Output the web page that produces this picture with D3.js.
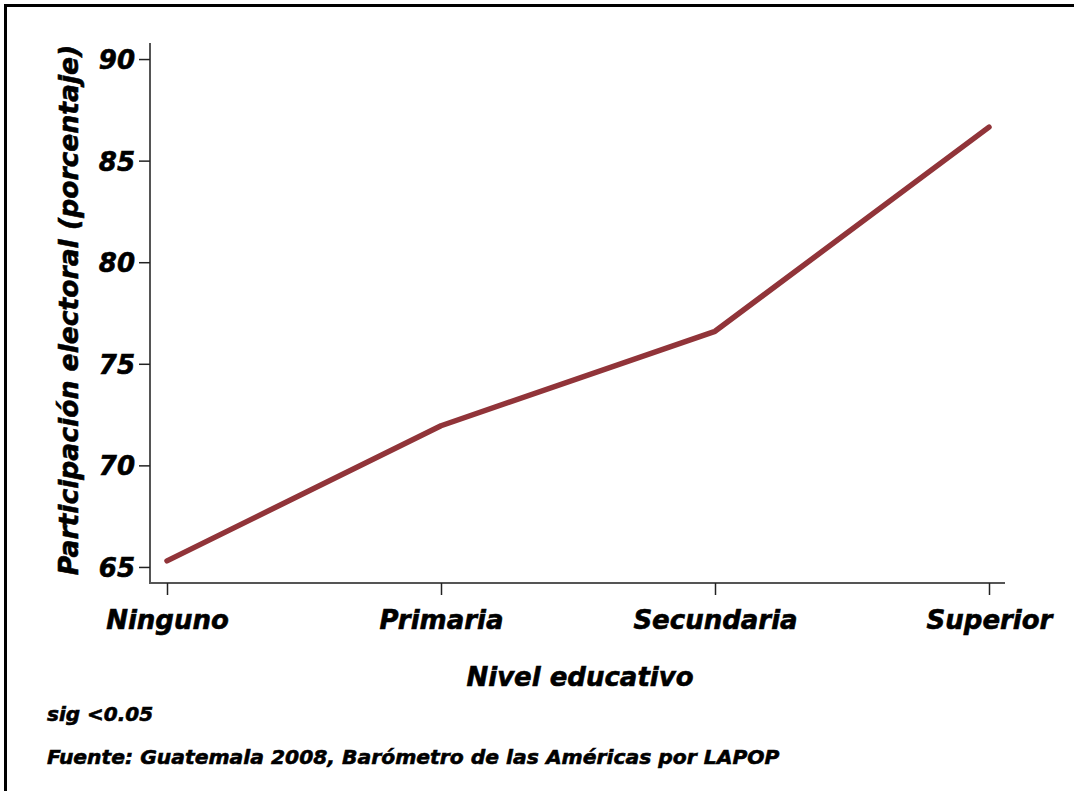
<!DOCTYPE html>
<html>
<head>
<meta charset="utf-8">
<script src="https://cdn.jsdelivr.net/npm/d3@7"></script>
<style>
  html, body { margin: 0; padding: 0; background: #fff; }
  svg { display: block; }
  text { font-family: "DejaVu Sans", sans-serif; font-weight: bold; font-style: italic; fill: #000; stroke: #000; stroke-width: 0.6px; }
</style>
</head>
<body>
<svg id="chart" width="1074" height="791"></svg>
<script>
const categories = ["Ninguno", "Primaria", "Secundaria", "Superior"];
const values = [65.3, 71.95, 76.6, 86.65];
const yTicks = [65, 70, 75, 80, 85, 90];
const yTitle = "Participación electoral (porcentaje)";
const xTitle = "Nivel educativo";
const noteSig = "sig <0.05";
const noteSource = "Fuente: Guatemala 2008, Barómetro de las Américas por LAPOP";

const svg = d3.select("#chart");

// outer frame (right/bottom edges fall outside the picture)
svg.append("rect")
  .attr("x", 5.5).attr("y", 5.5)
  .attr("width", 1090).attr("height", 810)
  .attr("fill", "none").attr("stroke", "#000").attr("stroke-width", 3);

const plotLeft = 150, plotRight = 1005, plotTop = 43, plotBottom = 583;

const x = d3.scalePoint().domain(categories).range([167, 989]);
const y = d3.scaleLinear().domain([64.21, 90.79]).range([plotBottom, plotTop]);

// axis lines
svg.append("line")
  .attr("x1", plotLeft).attr("x2", plotLeft)
  .attr("y1", plotTop).attr("y2", plotBottom)
  .attr("stroke", "#555").attr("stroke-width", 2);
svg.append("line")
  .attr("x1", plotLeft - 1).attr("x2", plotRight)
  .attr("y1", plotBottom).attr("y2", plotBottom)
  .attr("stroke", "#555").attr("stroke-width", 2);

// y axis ticks + labels
const yAxis = d3.axisLeft(y).tickValues(yTicks).tickSize(11).tickPadding(4);
const gy = svg.append("g").attr("transform", `translate(${plotLeft},0)`).call(yAxis);
gy.select(".domain").remove();
gy.selectAll(".tick line").attr("stroke", "#222").attr("stroke-width", 1.5);
gy.selectAll(".tick text")
  .attr("font-size", 26)
  .attr("font-family", "DejaVu Sans, sans-serif")
  .attr("fill", "#000")
  .attr("dy", "0.36em");

// x axis ticks + labels
const xAxis = d3.axisBottom(x).tickSize(12).tickPadding(16);
const gx = svg.append("g").attr("transform", `translate(0,${plotBottom})`).call(xAxis);
gx.select(".domain").remove();
gx.selectAll(".tick line").attr("stroke", "#222").attr("stroke-width", 1.5);
gx.selectAll(".tick text")
  .attr("font-size", 26)
  .attr("font-family", "DejaVu Sans, sans-serif")
  .attr("fill", "#000")
  .attr("dy", "0.71em");

// line
const line = d3.line()
  .x((d, i) => x(categories[i]))
  .y(d => y(d));
svg.append("path")
  .datum(values)
  .attr("d", line)
  .attr("fill", "none")
  .attr("stroke", "#913439")
  .attr("stroke-width", 5.5)
  .attr("stroke-linecap", "round")
  .attr("stroke-linejoin", "round");

// axis titles
svg.append("text")
  .attr("transform", `translate(78,${(plotTop + plotBottom) / 2 - 3}) rotate(-90)`)
  .attr("text-anchor", "middle")
  .attr("font-size", 26.6)
  .text(yTitle);

svg.append("text")
  .attr("x", 580).attr("y", 686)
  .attr("text-anchor", "middle")
  .attr("font-size", 26)
  .text(xTitle);

// notes
svg.append("text")
  .attr("x", 47).attr("y", 721)
  .attr("font-size", 20)
  .text(noteSig);
svg.append("text")
  .attr("x", 47).attr("y", 764)
  .attr("font-size", 20.3)
  .text(noteSource);
</script>
</body>
</html>
